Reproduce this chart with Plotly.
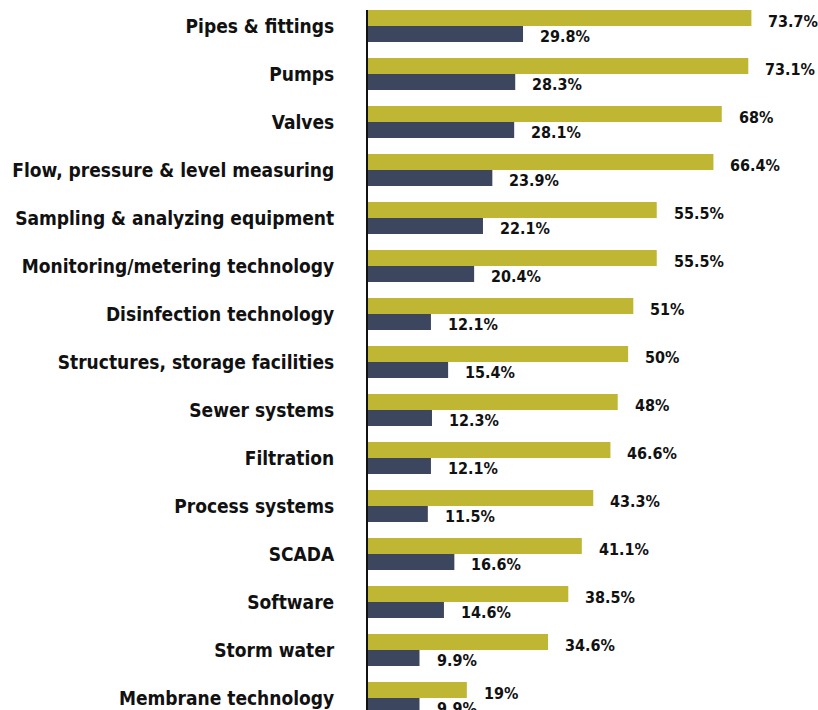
import plotly.graph_objects as go

categories = [
    "Pipes & fittings", "Pumps", "Valves", "Flow, pressure & level measuring",
    "Sampling & analyzing equipment", "Monitoring/metering technology",
    "Disinfection technology", "Structures, storage facilities", "Sewer systems",
    "Filtration", "Process systems", "SCADA", "Software", "Storm water",
    "Membrane technology",
]
series_a = [73.7, 73.1, 68, 66.4, 55.5, 55.5, 51, 50, 48, 46.6, 43.3, 41.1, 38.5, 34.6, 19]
series_b = [29.8, 28.3, 28.1, 23.9, 22.1, 20.4, 12.1, 15.4, 12.3, 12.1, 11.5, 16.6, 14.6, 9.9, 9.9]
labels_a = ["73.7%", "73.1%", "68%", "66.4%", "55.5%", "55.5%", "51%", "50%", "48%",
            "46.6%", "43.3%", "41.1%", "38.5%", "34.6%", "19%"]
labels_b = ["29.8%", "28.3%", "28.1%", "23.9%", "22.1%", "20.4%", "12.1%", "15.4%", "12.3%",
            "12.1%", "11.5%", "16.6%", "14.6%", "9.9%", "9.9%"]

YELLOW = "#BFB733"
NAVY = "#3C465E"
FONT = "DejaVu Sans Condensed, Liberation Sans Narrow, Arial Narrow, sans-serif"

fig = go.Figure()
fig.add_trace(go.Bar(y=categories, x=series_a, orientation="h", marker_color=YELLOW,
                     marker_line_width=0, hoverinfo="skip"))
fig.add_trace(go.Bar(y=categories, x=series_b, orientation="h", marker_color=NAVY,
                     marker_line_width=0, hoverinfo="skip"))

vfont = dict(family=FONT, size=16, color="#111111", weight="bold")
annotations = []
for cat, va, la, vb, lb in zip(categories, series_a, labels_a, series_b, labels_b):
    annotations.append(dict(x=va, y=cat, text=la, xanchor="left", yanchor="middle",
                            xshift=15, yshift=5, showarrow=False, font=vfont))
    annotations.append(dict(x=vb, y=cat, text=lb, xanchor="left", yanchor="middle",
                            xshift=15, yshift=-10, showarrow=False, font=vfont))

fig.update_layout(
    width=818, height=710,
    margin=dict(l=368, r=0, t=10, b=0),
    barmode="group", bargap=1/3, bargroupgap=0,
    showlegend=False,
    plot_bgcolor="white", paper_bgcolor="white",
    annotations=annotations,
    font=dict(family=FONT, color="#111111"),
    hovermode=False,
)
fig.update_xaxes(range=[0, 86.5], visible=False, showgrid=False, zeroline=False)
fig.update_yaxes(type="category", categoryorder="array", categoryarray=categories,
                 range=[14.25, -1/3], showgrid=False, zeroline=False,
                 showline=True, linecolor="#111111", linewidth=2,
                 ticks="", ticklabelstandoff=28,
                 tickfont=dict(family=FONT, size=19, color="#111111", weight="bold"))

fig.write_html("out.html", config={"displayModeBar": False, "staticPlot": True},
               post_script="document.body.style.margin='0';document.body.style.overflow='hidden';")
